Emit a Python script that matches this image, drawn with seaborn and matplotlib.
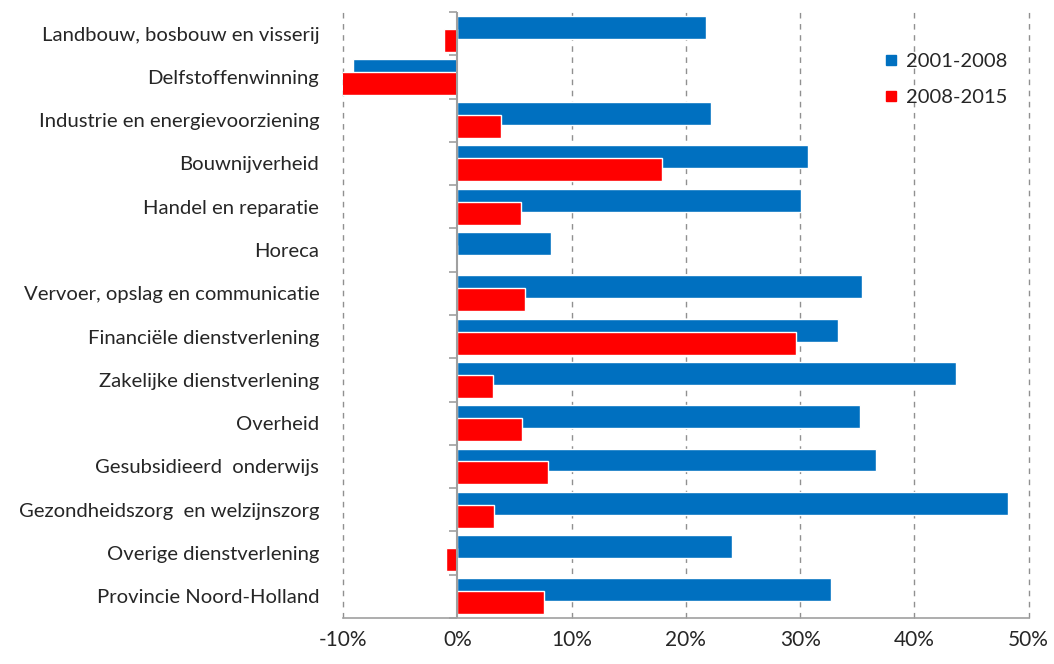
import pandas as pd
import numpy as np
import matplotlib
matplotlib.use("Agg")
import matplotlib.pyplot as plt
import seaborn as sns

# Gegevens (groei in %)
sectoren = [
    "Landbouw, bosbouw en visserij",
    "Delfstoffenwinning",
    "Industrie en energievoorziening",
    "Bouwnijverheid",
    "Handel en reparatie",
    "Horeca",
    "Vervoer, opslag en communicatie",
    "Financiële dienstverlening",
    "Zakelijke dienstverlening",
    "Overheid",
    "Gesubsidieerd  onderwijs",
    "Gezondheidszorg  en welzijnszorg",
    "Overige dienstverlening",
    "Provincie Noord-Holland",
]
groei_2001_2008 = [21.8, -9.1, 22.2, 30.7, 30.1, 8.2, 35.4, 33.3, 43.6, 35.2, 36.6, 48.2, 24.0, 32.7]
groei_2008_2015 = [-1.2, -10.4, 3.8, 17.9, 5.6, 0.0, 5.9, 29.6, 3.1, 5.7, 7.9, 3.2, -1.0, 7.6]
perioden = ["2001-2008", "2008-2015"]
kleuren = ["#0070C0", "#FF0000"]
x_ticks = [-10, 0, 10, 20, 30, 40, 50]
x_labels = ["-10%", "0%", "10%", "20%", "30%", "40%", "50%"]

df = pd.DataFrame({
    "sector": sectoren * 2,
    "periode": [perioden[0]] * len(sectoren) + [perioden[1]] * len(sectoren),
    "groei": groei_2001_2008 + groei_2008_2015,
})

sns.set_style("white")
plt.rcParams["font.family"] = ["Lato", "DejaVu Sans"]

fig = plt.figure(figsize=(10.54, 6.64), dpi=100)
ax = fig.add_axes([0.3254, 0.0693, 0.976 - 0.3254, 0.982 - 0.0693])

sns.barplot(data=df, y="sector", x="groei", hue="periode", order=sectoren,
            hue_order=perioden, palette=kleuren, saturation=1, orient="h",
            errorbar=None, width=0.6, gap=-0.767, dodge=True,
            edgecolor="white", linewidth=1, ax=ax, legend=False, zorder=3)

# assen
ax.set_xlim(-10, 50)
ax.set_ylim(len(sectoren) - 0.5, -0.5)
ax.set_xticks(x_ticks)
ax.set_xticklabels(x_labels, fontsize=15)
ax.set_xlabel("")
ax.set_ylabel("")
ax.tick_params(axis="y", length=0, labelsize=14.6, pad=17)
ax.tick_params(axis="x", direction="inout", length=14, color="#A0A0A0", pad=2)

for s in ["top", "right", "left"]:
    ax.spines[s].set_visible(False)
ax.spines["bottom"].set_color("#A0A0A0")
ax.spines["bottom"].set_linewidth(1.2)

# verticale stippellijnen
for t in x_ticks:
    if t != 0:
        ax.axvline(t, color="#909090", linestyle=(0, (4, 4)), linewidth=1, zorder=1,
                   clip_on=False)
ax.axvline(0, color="#A0A0A0", linewidth=1.5, zorder=4)

# korte streepjes op de nul-as tussen de categorieën
sec = ax.secondary_yaxis(1 / 6)
sec.set_yticks(np.arange(-0.5, len(sectoren), 1))
sec.set_yticklabels([])
sec.spines["left"].set_visible(False)
sec.spines["right"].set_visible(False)
sec.tick_params(axis="y", direction="out", length=6, color="#A0A0A0", width=1.2)
sec.yaxis.set_ticks_position("left")

# legenda
handles = [plt.Line2D([], [], marker="s", linestyle="", color=c, markersize=7) for c in kleuren]
ax.legend(handles, perioden, loc="upper left", bbox_to_anchor=(0.819, 0.948),
          bbox_transform=fig.transFigure, frameon=False, fontsize=14.5,
          handletextpad=0.2, labelspacing=0.95, handlelength=1.0)

plt.savefig("out.png", dpi=100)
